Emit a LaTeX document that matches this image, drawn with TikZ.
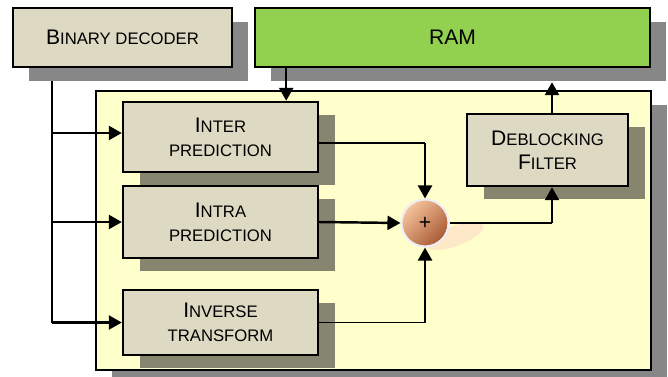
\documentclass[tikz,border=0pt]{standalone}
\usepackage{fontspec}
\setmainfont{Liberation Sans}
\usetikzlibrary{arrows.meta,positioning,shadows}
\pgfdeclarelayer{background layer}
\pgfsetlayers{background layer,main}
\definecolor{boxtan}{HTML}{DDD9C3}
\definecolor{ramgreen}{HTML}{92D050}
\definecolor{paleyellow}{HTML}{FFFFCC}
\definecolor{outershadow}{HTML}{878787}
\definecolor{innershadow}{HTML}{868670}
\definecolor{sumlight}{HTML}{F6C49C}
\definecolor{sumdark}{HTML}{A85A34}
\definecolor{sumring}{HTML}{EEEEF4}
\definecolor{sumshadow}{HTML}{FDE8C8}
\newcommand{\initcap}[1]{{\fontsize{12}{13.6}\selectfont #1}}

\begin{document}
\begin{tikzpicture}[x=0.02cm,y=-0.02cm]
\tikzstyle{block}=[draw=black,line width=1.4pt,fill=boxtan,align=center,inner sep=0pt,font=\fontsize{9.5}{13.6}\selectfont]
\tikzstyle{outerblock}=[block,drop shadow={shadow xshift=0.32cm,shadow yshift=-0.28cm,fill=outershadow,opacity=1}]
\tikzstyle{innerblock}=[block,drop shadow={shadow xshift=0.34cm,shadow yshift=-0.26cm,fill=innershadow,opacity=1}]
\tikzstyle{sum}=[circle,draw=sumring,line width=1.2pt,top color=sumlight,bottom color=sumdark,shading angle=45,minimum size=0.94cm,inner sep=0pt,font=\fontsize{12}{12}\selectfont]
\tikzstyle{arrow}=[line width=1.4pt,-{Triangle[length=0.26cm,width=0.28cm]}]
\tikzstyle{wire}=[line width=0.8pt]
\clip (0,0) rectangle (668,376);
\node [outerblock,minimum width=4.38cm,minimum height=1.18cm] (dec) at (122.5,37.5) {\initcap{B}INARY DECODER};
\node [outerblock,fill=ramgreen,minimum width=7.9cm,minimum height=1.18cm] (ram) at (452.5,37.5) {\initcap{RAM}};
\node [outerblock,fill=paleyellow,minimum width=11.1cm,minimum height=5.58cm] (core) at (373.5,230.5) {};
\node [innerblock,minimum width=3.9cm,minimum height=1.4cm] (inter) at (220.5,137) {\initcap{I}NTER\\PREDICTION};
\node [innerblock,minimum width=3.9cm,minimum height=1.44cm] (intra) at (220.5,222) {\initcap{I}NTRA\\PREDICTION};
\node [innerblock,minimum width=3.9cm,minimum height=1.3cm] (inv) at (220.5,322.5) {\initcap{I}NVERSE\\TRANSFORM};
\node [innerblock,minimum width=3.22cm,minimum height=1.44cm] (deb) at (547.5,150) {\initcap{D}EBLOCKING\\\initcap{F}ILTER};
\fill [sumshadow,rotate around={20:(455,236)}] (455,236) ellipse [x radius=0.6cm,y radius=0.2cm];
\node [sum] (sum) at (425,223) {+};

% decoder feeds all three blocks
\coordinate (bus) at (52,0);
\coordinate (interin) at ([yshift=0.08cm]inter.west);
\begin{pgfonlayer}{background layer}
\draw [wire] (bus |- dec.south) -- (bus |- inv.west);
\end{pgfonlayer}
\draw [arrow] (bus |- interin) -- (interin);
\draw [arrow] (bus |- intra.west) -- (intra.west);
\draw [arrow] (bus |- inv.west) -- (inv.west);

% reference frames
\coordinate (ramtap) at ([xshift=-0.66cm]inter.north east);
\draw [arrow] (ramtap |- ram.south) -- (ramtap);

% into the adder
\coordinate (interout) at ([yshift=-0.12cm]inter.east);
\draw [wire] (interout) -- (interout -| sum.north);
\draw [arrow] (interout -| sum.north) -- (sum.north);
\draw [arrow] (intra.east) -- (sum.west);
\draw [wire] (inv.east) -- (inv.east -| sum.south);
\draw [arrow] (inv.east -| sum.south) -- (sum.south);

% filter and back to memory
\coordinate (debin) at ([xshift=0.09cm]deb.south);
\coordinate (ramshadow) at ([yshift=-0.28cm]ram.south);
\draw [wire] (sum.east) -- (sum.east -| debin);
\draw [arrow] (sum.east -| debin) -- (debin);
\draw [arrow] (debin |- deb.north) -- (debin |- ramshadow);
\end{tikzpicture}
\end{document}
